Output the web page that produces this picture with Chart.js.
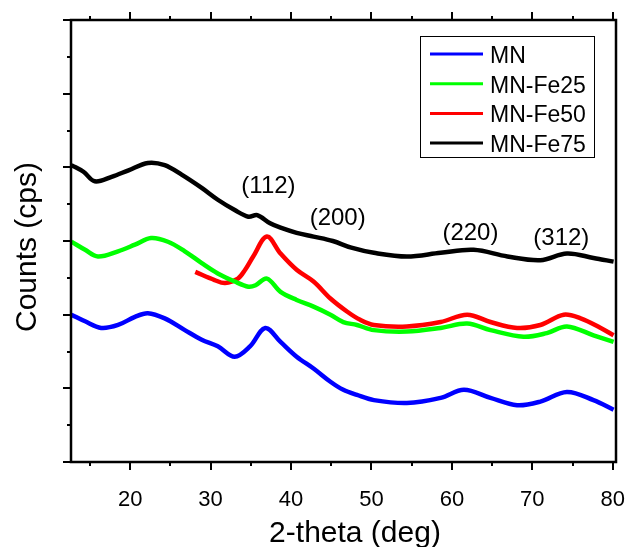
<!DOCTYPE html>
<html>
<head>
<meta charset="utf-8">
<script src="https://cdn.jsdelivr.net/npm/chart.js@4.4.1/dist/chart.umd.min.js"></script>
<style>
  html, body { margin: 0; padding: 0; background: #fff; }
  #wrap { width: 629px; height: 547px; }
</style>
</head>
<body>
<div id="wrap"><canvas id="chart" width="629" height="547"></canvas></div>
<script>
// 2-theta positions (deg) and offset intensities (arb. units, 0..6)
const mnX   = [12.7, 14.4, 16.4, 18.5, 20.6, 22.2, 24.3, 26.8, 28.9, 30.9, 33.0, 34.9, 36.8, 38.7, 40.7, 42.8, 44.9, 46.5, 48.2, 50.3, 54.4, 58.6, 61.5, 64.8, 68.1, 71.0, 74.3, 77.6, 80.1];
const mnY   = [2.00, 1.91, 1.82, 1.86, 1.97, 2.02, 1.95, 1.79, 1.66, 1.57, 1.43, 1.57, 1.82, 1.63, 1.43, 1.27, 1.09, 0.98, 0.91, 0.84, 0.80, 0.87, 0.98, 0.87, 0.77, 0.82, 0.95, 0.84, 0.71];

const fe25X = [12.7, 14.4, 16.0, 18.5, 20.6, 22.6, 24.7, 26.8, 28.9, 30.9, 33.0, 34.7, 35.6, 37.0, 38.7, 40.7, 42.8, 44.9, 46.5, 48.2, 50.3, 54.4, 58.6, 61.9, 64.8, 68.9, 71.8, 74.3, 77.6, 80.1];
const fe25Y = [2.99, 2.88, 2.79, 2.86, 2.95, 3.04, 2.99, 2.86, 2.70, 2.56, 2.45, 2.38, 2.40, 2.49, 2.31, 2.20, 2.11, 2.00, 1.90, 1.86, 1.79, 1.77, 1.82, 1.88, 1.79, 1.70, 1.75, 1.84, 1.72, 1.63];

const fe50X = [28.1, 30.5, 31.8, 33.4, 34.3, 35.3, 37.0, 38.7, 40.7, 42.8, 44.9, 47.0, 48.6, 50.3, 54.4, 58.6, 61.9, 64.8, 68.1, 71.0, 73.9, 76.0, 78.5, 80.1];
const fe50Y = [2.58, 2.47, 2.43, 2.49, 2.61, 2.79, 3.06, 2.83, 2.61, 2.45, 2.22, 2.04, 1.93, 1.86, 1.84, 1.90, 2.00, 1.90, 1.82, 1.86, 2.00, 1.95, 1.82, 1.72];

const fe75X = [12.7, 14.2, 15.6, 17.7, 19.8, 22.2, 24.3, 26.4, 28.9, 30.9, 33.0, 34.7, 35.8, 37.4, 38.7, 40.7, 42.8, 45.2, 47.5, 50.3, 54.4, 58.6, 62.7, 66.9, 71.0, 74.3, 77.6, 80.1];
const fe75Y = [4.03, 3.94, 3.81, 3.87, 3.96, 4.06, 4.03, 3.90, 3.72, 3.56, 3.42, 3.33, 3.35, 3.24, 3.18, 3.11, 3.06, 3.00, 2.91, 2.84, 2.79, 2.84, 2.88, 2.79, 2.74, 2.83, 2.77, 2.72];

const seriesNames  = ['MN', 'MN-Fe25', 'MN-Fe50', 'MN-Fe75'];
const seriesColors = ['#0000ff', '#00ff00', '#ff0000', '#000000'];

const xTicks = [15, 20, 25, 30, 35, 40, 45, 50, 55, 60, 65, 70, 75, 80];
const yTicks = [0, 0.5, 1, 1.5, 2, 2.5, 3, 3.5, 4, 4.5, 5, 5.5, 6];

const peakLabels = ['(112)', '(200)', '(220)', '(312)'];
const peakLabelX = [37.2, 45.8, 62.3, 73.6];
const peakLabelY = [3.65, 3.22, 3.01, 2.95];

const FONT = '"Liberation Sans", Arial, sans-serif';

function pts(xs, ys) { return xs.map((x, i) => ({ x: x, y: ys[i] })); }

const allX = [mnX, fe25X, fe50X, fe75X];
const allY = [mnY, fe25Y, fe50Y, fe75Y];
const drawOrder = [3, 1, 2, 0];

const datasets = seriesNames.map((name, i) => ({
  label: name,
  data: pts(allX[i], allY[i]),
  borderColor: seriesColors[i],
  backgroundColor: seriesColors[i],
  borderWidth: 4.5,
  pointRadius: 0,
  tension: 0.35,
  fill: false,
  order: drawOrder[i]
}));

// frame, outward ticks, titles, annotations and the boxed legend
const decor = {
  id: 'decor',
  afterDraw(chart) {
    const { ctx, chartArea: a, scales } = chart;
    const xs = scales.x, ys = scales.y;
    ctx.save();
    ctx.strokeStyle = '#000';
    ctx.lineWidth = 2.5;
    ctx.strokeRect(a.left, a.top, a.right - a.left, a.bottom - a.top);

    ctx.lineWidth = 2;
    ctx.beginPath();
    xTicks.forEach(v => {
      const px = Math.round(xs.getPixelForValue(v));
      const len = v % 10 === 0 ? 8 : 4;
      ctx.moveTo(px, a.bottom); ctx.lineTo(px, a.bottom + len);
      ctx.moveTo(px, a.top); ctx.lineTo(px, a.top - len);
    });
    yTicks.forEach(v => {
      const py = Math.round(ys.getPixelForValue(v));
      const len = v % 1 === 0 ? 8 : 4;
      ctx.moveTo(a.left, py); ctx.lineTo(a.left - len, py);
    });
    ctx.stroke();

    ctx.fillStyle = '#000';
    ctx.textAlign = 'center';
    ctx.textBaseline = 'alphabetic';
    ctx.font = '24px ' + FONT;
    peakLabels.forEach((t, i) => {
      ctx.fillText(t, xs.getPixelForValue(peakLabelX[i]), ys.getPixelForValue(peakLabelY[i]));
    });

    ctx.font = '30px ' + FONT;
    ctx.fillText('2-theta (deg)', 355, 542);
    ctx.save();
    ctx.translate(36, 247);
    ctx.rotate(-Math.PI / 2);
    ctx.fillText('Counts (cps)', 0, 0);
    ctx.restore();

    // legend
    ctx.lineWidth = 1;
    ctx.strokeStyle = '#000';
    ctx.strokeRect(420.5, 36.5, 174, 121);
    ctx.font = '23px ' + FONT;
    ctx.textAlign = 'left';
    seriesNames.forEach((name, i) => {
      const cy = 54 + i * 29.7;
      ctx.strokeStyle = seriesColors[i];
      ctx.lineWidth = 3;
      ctx.beginPath();
      ctx.moveTo(430, cy); ctx.lineTo(483, cy);
      ctx.stroke();
      ctx.fillText(name, 490, cy + 9);
    });
    ctx.restore();
  }
};

new Chart(document.getElementById('chart'), {
  type: 'line',
  data: { datasets: datasets },
  options: {
    responsive: false,
    animation: false,
    layout: { padding: { top: 20, right: 13, left: 0, bottom: 0 } },
    plugins: {
      legend: { display: false },
      tooltip: { enabled: false }
    },
    scales: {
      x: {
        type: 'linear',
        min: 12.65,
        max: 80.4,
        afterFit: s => { s.height = 85; s.paddingLeft = 0; s.paddingRight = 0; },
        afterBuildTicks: s => { s.ticks = xTicks.map(v => ({ value: v })); },
        grid: { display: false },
        border: { display: false },
        ticks: {
          autoSkip: false,
          maxRotation: 0,
          padding: 17,
          color: '#000',
          font: { family: FONT, size: 22 },
          callback: v => (v % 10 === 0 ? String(v) : '')
        }
      },
      y: {
        min: 0,
        max: 6,
        afterFit: s => { s.width = 71; s.paddingTop = 0; s.paddingBottom = 0; },
        grid: { display: false },
        border: { display: false },
        ticks: { display: false }
      }
    }
  },
  plugins: [decor]
});
</script>
</body>
</html>
